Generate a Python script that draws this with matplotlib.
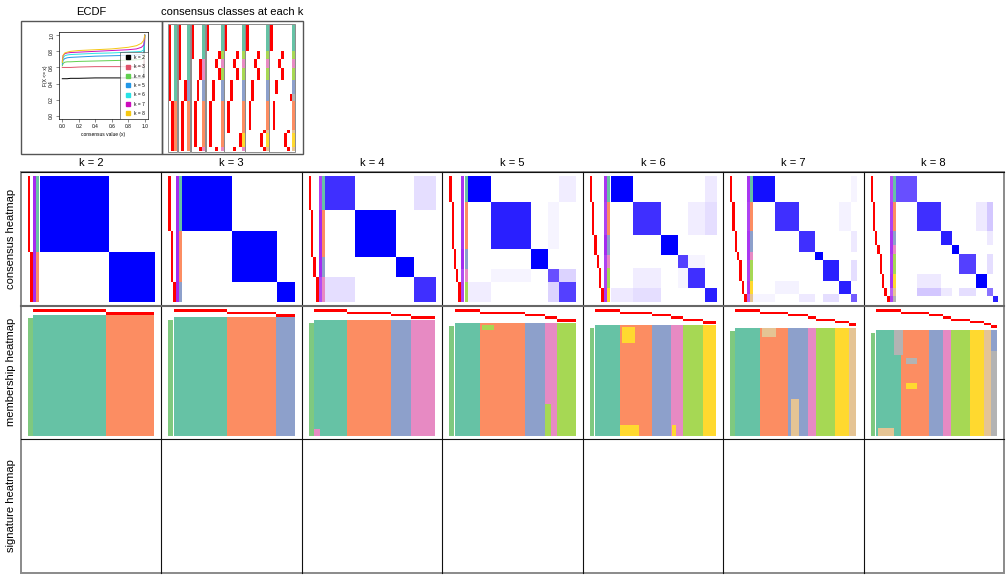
import numpy as np
import matplotlib
matplotlib.use('Agg')
import matplotlib.pyplot as plt
from matplotlib.colors import LinearSegmentedColormap, to_rgb
from matplotlib.lines import Line2D
from matplotlib.patches import Rectangle

plt.rcParams['font.family'] = ['Liberation Sans', 'DejaVu Sans']

W, H = 1008, 576

ks = [2, 3, 4, 5, 6, 7, 8]
set2 = ['#66C2A5', '#FC8D62', '#8DA0CB', '#E78AC3', '#A6D854', '#FFD92F', '#E5C494', '#B3B3B3']
ecdf_cols = ['#000000', '#DF536B', '#61D04F', '#2297E6', '#28E2E5', '#CD0BBC', '#F5C710']

# samples come in groups (common order), each group gets one class per k
group_sizes = [21, 6, 7, 10, 11, 5, 23, 3, 11, 3]
group_class = {
    2: [1, 1, 1, 1, 1, 1, 2, 2, 2, 2],
    3: [1, 1, 1, 1, 3, 3, 2, 2, 2, 2],
    4: [1, 1, 4, 4, 3, 3, 2, 2, 2, 4],
    5: [1, 5, 4, 5, 3, 3, 2, 2, 2, 4],
    6: [1, 5, 4, 5, 3, 3, 2, 2, 6, 4],
    7: [1, 5, 4, 5, 3, 3, 2, 7, 6, 7],
    8: [1, 5, 4, 5, 3, 8, 2, 7, 6, 7],
}

# mean consensus inside each class and between some class pairs
within = {
    2: [1, 1],
    3: [1, 1, 1],
    4: [0.85, 1, 1, 0.85],
    5: [1, 0.9, 1, 0.75, 0.8],
    6: [1, 0.85, 1, 0.8, 0.85, 0.9],
    7: [0.95, 0.85, 0.85, 1, 0.9, 0.9, 0.7],
    8: [0.75, 0.85, 0.9, 1, 0.8, 1, 0.6, 0.9],
}
between = {
    4: [(1, 4, 0.15)],
    5: [(4, 5, 0.2), (1, 5, 0.08), (2, 4, 0.05)],
    6: [(2, 5, 0.08), (2, 6, 0.15), (4, 5, 0.05), (1, 6, 0.1)],
    7: [(2, 6, 0.06), (3, 7, 0.1), (1, 7, 0.05), (5, 7, 0.15)],
    8: [(2, 6, 0.1), (3, 7, 0.1), (5, 7, 0.15), (2, 7, 0.25)],
}
silhouette = {
    2: [0.95, 0.95],
    3: [0.95, 0.95, 0.95],
    4: [0.85, 0.95, 0.95, 0.8],
    5: [0.9, 0.9, 0.95, 0.8, 0.85],
    6: [0.9, 0.85, 0.95, 0.85, 0.85, 0.9],
    7: [0.9, 0.85, 0.9, 0.9, 0.85, 0.9, 0.7],
    8: [0.8, 0.85, 0.9, 0.9, 0.85, 0.9, 0.7, 0.85],
}

# membership runs that disagree: (first sample, last sample, first run, last run, class)
n_runs = 50
switches = {
    4: [(0, 5, 47, 50, 4)],
    5: [(22, 32, 1, 3, 5), (74, 79, 36, 50, 5)],
    6: [(22, 33, 1, 8, 6), (21, 36, 45, 50, 6), (64, 67, 45, 50, 6)],
    7: [(46, 53, 33, 50, 7), (22, 34, 0, 4, 7)],
    8: [(15, 22, 0, 12, 8), (25, 34, 13, 16, 8), (25, 34, 25, 28, 6),
        (2, 15, 46, 50, 7), (95, 100, 0, 10, 3)],
}

# ECDF of consensus values
ecdf_x = [0.0, 0.01, 0.03, 0.06, 0.1, 0.2, 0.4, 0.6, 0.8, 0.9, 0.96, 0.99, 1.0]
ecdf_y = {
    2: [0.46, 0.46, 0.46, 0.46, 0.465, 0.465, 0.47, 0.47, 0.47, 0.47, 0.47, 0.47, 1.0],
    3: [0.60, 0.60, 0.60, 0.60, 0.60, 0.605, 0.61, 0.61, 0.61, 0.61, 0.615, 0.62, 1.0],
    4: [0.62, 0.65, 0.665, 0.67, 0.67, 0.675, 0.68, 0.685, 0.69, 0.695, 0.70, 0.71, 1.0],
    5: [0.64, 0.69, 0.71, 0.72, 0.725, 0.73, 0.74, 0.745, 0.75, 0.755, 0.76, 0.78, 1.0],
    6: [0.66, 0.72, 0.745, 0.755, 0.76, 0.765, 0.775, 0.78, 0.79, 0.795, 0.80, 0.82, 1.0],
    7: [0.68, 0.75, 0.77, 0.78, 0.785, 0.79, 0.80, 0.81, 0.82, 0.83, 0.85, 0.88, 1.0],
    8: [0.66, 0.75, 0.78, 0.79, 0.80, 0.81, 0.82, 0.83, 0.85, 0.87, 0.90, 0.94, 1.0],
}

cons_cmap = LinearSegmentedColormap.from_list('cons', ['#FFFFFF', '#D4C8FF', '#A28CFF', '#6A50FF', '#0000FF'])
prob_cmap = LinearSegmentedColormap.from_list('prob', ['#FFFFFF', '#FF0000'])
sil_cmap = LinearSegmentedColormap.from_list('sil', ['#FFFFFF', '#A020F0'])


def class_rgb(cls):
    return np.array([to_rgb(set2[c - 1]) for c in cls])


fig = plt.figure(figsize=(W / 100, H / 100), dpi=100)
ax = fig.add_axes([0, 0, 1, 1])
ax.axis('off')


def img(arr, x0, x1, y0, y1, **kw):
    ax.imshow(arr, extent=[x0, x1, y1, y0], aspect='auto', interpolation='nearest', **kw)


col_w = (1004 - 21) / 7
col_left = [21 + i * col_w for i in range(7)]
row_top = [172, 305.5, 439, 573]

for i, k in enumerate(ks):
    cl = col_left[i]
    labels = np.repeat(group_class[k], group_sizes)
    order = np.argsort(labels, kind='stable')
    cls = labels[order]
    n = len(cls)

    # consensus heatmap
    M = np.zeros((k, k))
    for c in range(k):
        M[c, c] = within[k][c]
    for a, b, v in between.get(k, []):
        M[a - 1, b - 1] = v
        M[b - 1, a - 1] = v
    cons = M[cls[:, None] - 1, cls[None, :] - 1]
    hy0, hy1 = 176, 301.7
    w = 2.3
    x = cl + 7
    for j in range(1, k + 1):
        img((cls == j).astype(float).reshape(-1, 1), x, x + w, hy0, hy1, cmap=prob_cmap, vmin=0, vmax=1)
        x += w
    x += 0.6
    sil = np.array(silhouette[k])[cls - 1]
    img(sil.reshape(-1, 1), x, x + w, hy0, hy1, cmap=sil_cmap, vmin=0, vmax=1)
    x += w + 0.9
    img(class_rgb(cls).reshape(-1, 1, 3), x, x + w, hy0, hy1)
    x += w + 0.9
    img(cons, x, cl + 133.5, hy0, hy1, cmap=cons_cmap, vmin=0, vmax=1)

    # membership heatmap
    runs = np.tile(cls, (n_runs, 1))
    for s0, s1, r0, r1, c in switches.get(k, []):
        runs[r0:r1, s0:s1] = c
    mx0, mx1 = cl + 12.3, cl + 133
    sy = 310
    for j in range(1, k + 1):
        img((cls == j).astype(float).reshape(1, -1), mx0, mx1, sy, sy + 2.3, cmap=prob_cmap, vmin=0, vmax=1)
        sy += 2.3
    mtop = 310 + 2.6 * k
    rgb = np.array([to_rgb(c) for c in set2])[runs - 1]
    img(rgb, mx0, mx1, mtop, 436)
    ax.add_patch(Rectangle((cl + 7, mtop + 2.5), 4.7, 436 - mtop - 2.5, color='#7FC97F', lw=0))

    ax.text(cl + col_w / 2, 163, f'k = {k}', ha='center', va='center', fontsize=8)

# consensus classes at each k
all_labels = {k: np.repeat(group_class[k], group_sizes) for k in ks}
gx = 168.5
cw = 2.83
for k in ks:
    lab = all_labels[k]
    x = gx
    for j in range(1, k + 1):
        img((lab == j).astype(float).reshape(-1, 1), x, x + cw, 25, 150.7, cmap=prob_cmap, vmin=0, vmax=1)
        x += cw
    img(class_rgb(lab).reshape(-1, 1, 3), x, x + cw, 25, 150.7)
    x += cw
    ax.add_patch(Rectangle((gx - 0.3, 24), x - gx + 0.6, 127.5, fill=False, ec='#8C8C8C', lw=0.7))
    gx = x + 1.3

# frames
ax.add_patch(Rectangle((21, 21), 141, 133, fill=False, ec='#555555', lw=1.0))
ax.add_patch(Rectangle((162, 21), 141, 133, fill=False, ec='#555555', lw=1.0))
ax.add_patch(Rectangle((21, 172), 983, 401, fill=False, ec='#8A8A8A', lw=1.4))
for cl in col_left[1:]:
    ax.add_line(Line2D([cl, cl], [172, 573], color='#111111', lw=0.8))
ax.add_line(Line2D([21, 1004], [172, 172], color='#111111', lw=0.8))
ax.add_line(Line2D([21, 1004], [305.5, 305.5], color='#666666', lw=1.5))
ax.add_line(Line2D([21, 1004], [439, 439], color='#111111', lw=0.8))

ax.text(91.5, 12, 'ECDF', ha='center', va='center', fontsize=8)
ax.text(232.5, 12, 'consensus classes at each k', ha='center', va='center', fontsize=8)
row_names = ['consensus heatmap', 'membership heatmap', 'signature heatmap']
for r, name in enumerate(row_names):
    ax.text(11, (row_top[r] + row_top[r + 1]) / 2, name, rotation=90, ha='center', va='center', fontsize=8)

ax.set_xlim(0, W)
ax.set_ylim(H, 0)

# ECDF panel
ea = fig.add_axes([59 / W, 1 - 119 / H, 89 / W, 87 / H])
for k, c in zip(ks, ecdf_cols):
    ea.plot(ecdf_x, ecdf_y[k], color=c, lw=0.7, label=f'k = {k}')
ea.set_xlim(-0.04, 1.04)
ea.set_ylim(-0.04, 1.04)
ea.set_xticks([0, 0.2, 0.4, 0.6, 0.8, 1.0])
ea.set_yticks([0, 0.2, 0.4, 0.6, 0.8, 1.0])
ea.set_xticklabels(['0.0', '0.2', '0.4', '0.6', '0.8', '1.0'], fontsize=3.5)
ea.set_yticklabels(['0.0', '0.2', '0.4', '0.6', '0.8', '1.0'], fontsize=3.5, rotation=90, va='center')
ea.tick_params(length=2, width=0.4, pad=1.5, color='#333333')
for s in ea.spines.values():
    s.set_linewidth(0.5)
ea.set_xlabel('consensus value (x)', fontsize=3.5, labelpad=2)
ea.set_ylabel('F(X <= x)', fontsize=3.5, labelpad=1)
handles = [Line2D([], [], marker='s', ls='', color=c, markersize=2.5) for c in ecdf_cols]
leg = ea.legend(handles, [f'k = {k}' for k in ks], loc='lower right', fontsize=3.5,
                fancybox=False, edgecolor='#333333', borderpad=0.6, labelspacing=0.9,
                handletextpad=0.3, borderaxespad=0)
leg.get_frame().set_linewidth(0.5)

fig.savefig('out.png', dpi=100)
